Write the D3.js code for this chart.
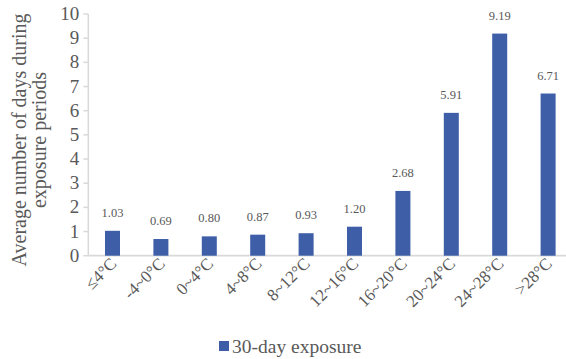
<!DOCTYPE html>
<html>
<head>
<meta charset="utf-8">
<script src="https://cdn.jsdelivr.net/npm/d3@7/dist/d3.min.js"></script>
</head>
<body style="margin:0">
<svg id="chart" width="566" height="359" font-family="Liberation Serif"></svg>
<script>
const categories = ["≤4°C", "-4~0°C", "0~4°C", "4~8°C", "8~12°C", "12~16°C", "16~20°C", "20~24°C", "24~28°C", ">28°C"];
const values = [1.03, 0.69, 0.80, 0.87, 0.93, 1.20, 2.68, 5.91, 9.19, 6.71];
const yTicks = [0, 1, 2, 3, 4, 5, 6, 7, 8, 9, 10];
const seriesName = "30-day exposure";
const yTitle = ["Average number of days during", "exposure periods"];

const barColor = "#3e5ea8";
const textColor = "#595959";
const axisColor = "#d9d9d9";
const FONT = "Liberation Serif";

const svg = d3.select("#chart");
const x0 = 88.3, y0 = 255.7, yTop = 14;

const x = d3.scaleBand().domain(categories).range([x0, x0 + 484]).paddingInner(0.69).paddingOuter(0.345);
const y = d3.scaleLinear().domain([0, 10]).range([y0, yTop]);

function txt(sel, size) {
  return sel.attr("font-family", FONT).attr("font-size", size).attr("fill", textColor);
}

// y axis line and ticks
svg.append("path").attr("fill", "none").attr("stroke", axisColor).attr("stroke-width", 1.5)
  .attr("d", `M${x0},${yTop}V${y0}`);
svg.append("g").selectAll("line").data(yTicks).join("line")
  .attr("x1", x0 - 5).attr("x2", x0).attr("y1", d => y(d)).attr("y2", d => y(d))
  .attr("stroke", axisColor).attr("stroke-width", 1.5);
txt(svg.append("g").selectAll("text").data(yTicks).join("text"), 19)
  .attr("x", x0 - 9).attr("y", d => y(d)).attr("dy", "0.32em")
  .attr("text-anchor", "end").text(d => d);

// baseline
svg.append("line").attr("x1", x0).attr("x2", 566).attr("y1", y0).attr("y2", y0)
  .attr("stroke", axisColor).attr("stroke-width", 1.8);

// bars
svg.append("g").selectAll("rect").data(values).join("rect")
  .attr("x", (d, i) => x(categories[i]))
  .attr("width", x.bandwidth())
  .attr("y", d => y(d))
  .attr("height", d => y(0) - y(d))
  .attr("fill", barColor);

// value labels
txt(svg.append("g").selectAll("text").data(values).join("text"), 12.5)
  .attr("x", (d, i) => x(categories[i]) + x.bandwidth() / 2)
  .attr("y", d => y(d) - 14)
  .attr("text-anchor", "middle")
  .text(d => d.toFixed(2));

// x labels rotated
txt(svg.append("g").selectAll("text").data(categories).join("text"), 17)
  .attr("transform", d => `translate(${x(d) + x.bandwidth() / 2 + 5},${y0 + 9}) rotate(-45)`)
  .attr("text-anchor", "end")
  .text(d => d);

// y title
const yt = txt(svg.append("text"), 20).attr("transform", `translate(0,140) rotate(-90)`)
  .attr("text-anchor", "middle");
yt.append("tspan").attr("x", 0).attr("y", 26).text(yTitle[0]);
yt.append("tspan").attr("x", 0).attr("y", 46).text(yTitle[1]);

// legend
svg.append("rect").attr("x", 219).attr("y", 341).attr("width", 10).attr("height", 10).attr("fill", barColor);
txt(svg.append("text"), 19.5).attr("x", 232).attr("y", 352.5).text(seriesName);
</script>
</body>
</html>
